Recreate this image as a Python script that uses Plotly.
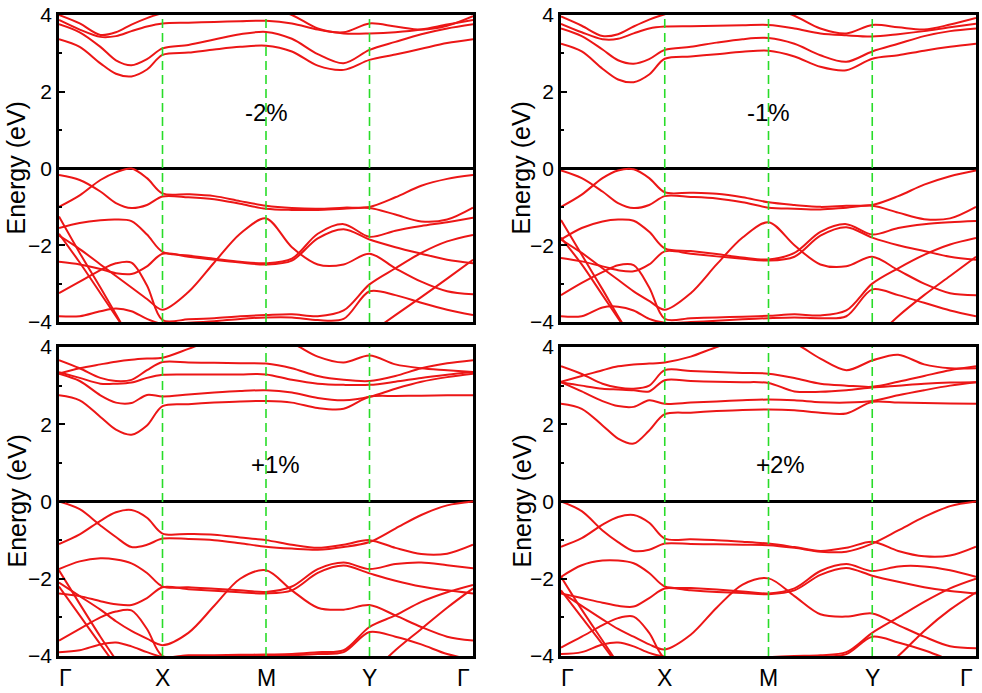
import plotly.graph_objects as go
from plotly.subplots import make_subplots

# k-path sample positions (Γ=0, X=1, M=2, Y=3, Γ=4)
k = [0, 0.2, 0.4, 0.55, 0.7, 0.85, 1, 1.25, 1.5, 1.75, 2,
     2.25, 2.5, 2.75, 3, 3.25, 3.5, 3.75, 4]
k_ticks = [0.065, 1, 2, 3, 3.91]
k_labels = ["Γ", "X", "M", "Y", "Γ"]
strain_labels = ["-2%", "-1%", "+1%", "+2%"]

N = None

# ---- -2% ----
cb_m2 = [
    [3.37, 3.17, 2.74, 2.47, 2.40, 2.58, 2.96, 3.02, 3.10, 3.17, 3.20, 3.05, 2.68, 2.57, 2.83, 2.97, 3.12, 3.27, 3.37],
    [3.76, 3.55, 3.17, 2.82, 2.69, 2.85, 3.13, 3.22, 3.36, 3.50, 3.56, 3.38, 2.98, 2.74, 3.09, 3.30, 3.50, 3.65, 3.76],
    [3.87, 3.62, 3.43, 3.45, 3.58, 3.70, 3.78, 3.80, 3.82, 3.84, 3.85, 3.78, 3.62, 3.52, 3.52, 3.55, 3.62, 3.75, 3.87],
    [4.00, 3.78, 3.48, 3.55, 3.75, 3.92, 4.05, 4.20, 4.30, 4.30, 4.20, 4.00, 3.65, 3.55, 3.78, 3.70, 3.62, 3.72, 3.97],
]
vb_m2 = [
    [-1.00, -0.70, -0.30, -0.10, 0.00, -0.25, -0.65, -0.67, -0.72, -0.85, -0.97, -1.03, -1.05, -1.02, -1.00, -0.75, -0.45, -0.27, -0.17],
    [-0.17, -0.30, -0.60, -0.90, -1.03, -0.95, -0.73, -0.75, -0.80, -0.92, -1.05, -1.08, -1.08, -1.05, -1.03, -1.20, -1.38, -1.33, -1.02],
    [-1.55, -1.42, -1.35, -1.33, -1.37, -1.72, -2.17, -2.27, -2.35, -2.43, -2.47, -2.35, -1.70, -1.45, -1.78, -1.62, -1.50, -1.40, -1.28],
    [-2.43, -2.50, -2.62, -2.73, -2.75, -2.55, -2.22, -2.30, -2.38, -2.45, -2.50, -2.40, -1.82, -1.58, -1.85, -2.05, -2.22, -2.38, -2.47],
    [-1.75, -2.10, -2.50, -2.80, -3.10, -3.40, -3.68, -3.22, -2.45, -1.70, -1.30, -2.05, -2.50, -2.50, -2.22, -2.60, -2.95, -3.20, -3.28],
    [-3.25, -2.95, -2.65, -2.47, -2.45, -3.05, -3.95, -3.93, -3.90, -3.85, -3.82, -3.80, -3.85, -3.70, -3.02, -2.60, -2.20, -1.90, -1.73],
    [-3.85, -3.85, -3.72, -3.65, -3.72, -3.92, -4.05, -4.02, -3.98, -3.92, -3.88, -3.88, -3.95, -3.92, -3.20, -3.30, -3.50, -3.68, -3.82],
]
steep_m2 = [
    [-1.25, -2.20, -3.10, -3.80, -4.50, N, N, N, N, N, N, N, N, N, N, N, N, N, N],
    [-1.70, -2.45, -3.25, -3.85, -4.45, N, N, N, N, N, N, N, N, N, N, N, N, N, N],
    [N, N, N, N, N, N, N, N, N, N, N, N, N, N, -4.30, -3.82, -3.35, -2.87, -2.38],
]

# ---- -1% ----
cb_m1 = [
    [3.25, 3.05, 2.60, 2.32, 2.25, 2.45, 2.86, 2.92, 2.98, 3.04, 3.07, 2.92, 2.65, 2.56, 2.86, 2.95, 3.07, 3.17, 3.25],
    [3.65, 3.45, 3.10, 2.82, 2.73, 2.85, 3.09, 3.17, 3.28, 3.37, 3.40, 3.25, 2.95, 2.78, 3.05, 3.25, 3.45, 3.58, 3.65],
    [3.77, 3.55, 3.37, 3.38, 3.52, 3.65, 3.70, 3.71, 3.72, 3.73, 3.74, 3.65, 3.52, 3.47, 3.44, 3.50, 3.58, 3.68, 3.77],
    [3.96, 3.72, 3.45, 3.50, 3.70, 3.88, 4.02, 4.20, 4.30, 4.30, 4.20, 3.98, 3.65, 3.52, 3.74, 3.68, 3.62, 3.75, 3.92],
]
vb_m1 = [
    [-1.00, -0.68, -0.25, -0.05, -0.02, -0.25, -0.62, -0.63, -0.66, -0.75, -0.88, -0.95, -1.00, -0.97, -0.95, -0.72, -0.42, -0.20, -0.05],
    [-0.05, -0.25, -0.60, -0.90, -1.03, -0.95, -0.72, -0.74, -0.78, -0.88, -1.02, -1.05, -1.07, -1.02, -0.97, -1.15, -1.32, -1.30, -1.00],
    [-1.85, -1.55, -1.38, -1.33, -1.36, -1.65, -2.08, -2.15, -2.23, -2.32, -2.37, -2.20, -1.65, -1.45, -1.72, -1.55, -1.45, -1.40, -1.37],
    [-2.33, -2.42, -2.55, -2.65, -2.68, -2.50, -2.16, -2.22, -2.29, -2.35, -2.40, -2.30, -1.75, -1.53, -1.80, -2.00, -2.15, -2.30, -2.38],
    [-1.85, -2.20, -2.60, -2.90, -3.20, -3.45, -3.68, -3.25, -2.50, -1.80, -1.40, -2.00, -2.50, -2.55, -2.30, -2.65, -3.00, -3.25, -3.30],
    [-3.30, -2.98, -2.70, -2.52, -2.52, -3.10, -3.92, -3.90, -3.88, -3.86, -3.84, -3.80, -3.83, -3.70, -3.00, -2.60, -2.25, -1.98, -1.81],
    [-3.85, -3.85, -3.62, -3.60, -3.70, -3.92, -4.02, -4.00, -3.97, -3.93, -3.90, -3.88, -3.90, -3.85, -3.15, -3.30, -3.50, -3.70, -3.85],
]
steep_m1 = [
    [-1.34, -2.25, -3.15, -3.85, -4.50, N, N, N, N, N, N, N, N, N, N, N, N, N, N],
    [-1.80, -2.50, -3.30, -3.90, -4.50, N, N, N, N, N, N, N, N, N, N, N, N, N, N],
    [N, N, N, N, N, N, N, N, N, N, N, N, N, N, -4.50, -3.85, -3.30, -2.80, -2.30],
]

# ---- +1% ----
cb_p1 = [
    [2.75, 2.62, 2.19, 1.86, 1.73, 1.97, 2.47, 2.52, 2.56, 2.59, 2.60, 2.56, 2.42, 2.40, 2.71, 2.73, 2.74, 2.75, 2.75],
    [3.31, 3.12, 2.75, 2.56, 2.55, 2.76, 2.72, 2.77, 2.82, 2.86, 2.88, 2.82, 2.68, 2.62, 2.71, 2.92, 3.10, 3.22, 3.31],
    [3.35, 3.20, 3.05, 3.05, 3.08, 3.20, 3.28, 3.29, 3.29, 3.29, 3.29, 3.15, 3.05, 3.02, 3.02, 3.10, 3.20, 3.28, 3.35],
    [3.66, 3.45, 3.20, 3.12, 3.15, 3.40, 3.61, 3.60, 3.59, 3.58, 3.57, 3.45, 3.25, 3.15, 3.12, 3.25, 3.45, 3.58, 3.66],
    [3.31, 3.45, 3.55, 3.62, 3.67, 3.70, 3.72, 3.95, 4.20, 4.30, 4.30, 4.10, 3.75, 3.60, 3.78, 3.55, 3.45, 3.40, 3.35],
]
vb_p1 = [
    [0.00, -0.20, -0.62, -0.92, -1.18, -1.12, -0.96, -0.97, -1.00, -1.08, -1.17, -1.22, -1.25, -1.18, -1.05, -0.70, -0.35, -0.10, 0.00],
    [-1.10, -0.85, -0.50, -0.28, -0.22, -0.42, -0.83, -0.84, -0.86, -0.93, -1.00, -1.12, -1.20, -1.12, -1.00, -1.20, -1.36, -1.35, -1.12],
    [-1.75, -1.55, -1.47, -1.50, -1.60, -1.85, -2.20, -2.22, -2.26, -2.30, -2.34, -2.20, -1.75, -1.58, -1.75, -1.62, -1.58, -1.65, -1.73],
    [-2.38, -2.45, -2.58, -2.66, -2.68, -2.50, -2.22, -2.27, -2.31, -2.35, -2.38, -2.30, -1.85, -1.66, -1.86, -2.05, -2.20, -2.30, -2.38],
    [-2.10, -2.45, -2.80, -3.10, -3.35, -3.55, -3.72, -3.40, -2.70, -2.00, -1.78, -2.30, -2.75, -2.80, -2.68, -2.95, -3.25, -3.50, -3.60],
    [-3.60, -3.30, -3.00, -2.85, -2.82, -3.30, -4.00, -3.98, -3.98, -3.97, -3.96, -3.95, -3.90, -3.85, -3.25, -2.95, -2.60, -2.35, -2.16],
    [-3.90, -3.85, -3.70, -3.65, -3.75, -3.90, -4.02, -4.00, -4.00, -4.00, -4.00, -3.98, -3.95, -3.90, -3.38, -3.50, -3.70, -3.95, -4.10],
]
steep_p1 = [
    [-1.78, -2.65, -3.50, -4.10, N, N, N, N, N, N, N, N, N, N, N, N, N, N, N],
    [-2.20, -2.95, -3.70, -4.25, N, N, N, N, N, N, N, N, N, N, N, N, N, N, N],
    [N, N, N, N, N, N, N, N, N, N, N, N, N, N, -4.50, -3.85, -3.30, -2.75, -2.25],
]

# ---- +2% ----
cb_p2 = [
    [2.53, 2.40, 1.97, 1.63, 1.50, 1.84, 2.26, 2.30, 2.34, 2.37, 2.38, 2.36, 2.30, 2.28, 2.58, 2.56, 2.55, 2.54, 2.53],
    [3.09, 2.85, 2.60, 2.47, 2.45, 2.62, 2.53, 2.56, 2.59, 2.62, 2.64, 2.62, 2.57, 2.56, 2.60, 2.75, 2.88, 3.00, 3.09],
    [3.09, 3.00, 2.92, 2.90, 2.88, 2.85, 3.14, 3.12, 3.10, 3.09, 3.07, 2.85, 2.84, 2.88, 2.95, 3.00, 3.05, 3.08, 3.09],
    [3.50, 3.30, 3.05, 2.95, 2.92, 3.00, 3.40, 3.38, 3.35, 3.33, 3.31, 3.20, 3.05, 3.00, 2.97, 3.10, 3.25, 3.40, 3.50],
    [3.10, 3.25, 3.40, 3.50, 3.55, 3.57, 3.60, 3.75, 4.00, 4.20, 4.30, 4.10, 3.70, 3.40, 3.65, 3.80, 3.55, 3.45, 3.45],
]
vb_p2 = [
    [0.00, -0.25, -0.75, -1.05, -1.28, -1.25, -1.09, -1.10, -1.11, -1.12, -1.13, -1.20, -1.30, -1.30, -1.09, -0.75, -0.40, -0.12, 0.00],
    [-1.17, -0.95, -0.60, -0.40, -0.35, -0.55, -0.96, -0.98, -1.00, -1.04, -1.09, -1.18, -1.28, -1.20, -1.04, -1.28, -1.42, -1.40, -1.17],
    [-1.95, -1.65, -1.53, -1.53, -1.60, -1.85, -2.20, -2.24, -2.28, -2.33, -2.38, -2.25, -1.80, -1.62, -1.80, -1.68, -1.68, -1.78, -1.95],
    [-2.38, -2.50, -2.62, -2.70, -2.72, -2.50, -2.25, -2.30, -2.34, -2.37, -2.40, -2.30, -1.90, -1.72, -1.92, -2.08, -2.22, -2.32, -2.38],
    [-2.35, -2.70, -3.05, -3.30, -3.50, -3.70, -3.83, -3.45, -2.75, -2.15, -1.99, -2.45, -2.92, -2.98, -2.90, -3.20, -3.50, -3.75, -3.80],
    [-3.78, -3.50, -3.20, -3.02, -2.98, -3.40, -4.05, -4.05, -4.05, -4.05, -4.03, -4.00, -3.98, -3.90, -3.40, -3.00, -2.60, -2.25, -2.00],
    [-3.95, -3.90, -3.70, -3.65, -3.75, -3.92, -4.02, -4.05, -4.05, -4.05, -4.05, -4.05, -4.02, -3.95, -3.50, -3.65, -3.85, -4.10, -4.30],
]
steep_p2 = [
    [-1.95, -2.80, -3.60, -4.20, N, N, N, N, N, N, N, N, N, N, N, N, N, N, N],
    [-2.30, -3.00, -3.70, -4.25, N, N, N, N, N, N, N, N, N, N, N, N, N, N, N],
    [N, N, N, N, N, N, N, N, N, N, N, N, N, N, -4.50, -4.00, -3.35, -2.80, -2.35],
]

panels = [
    (1, 1, cb_m2 + vb_m2 + steep_m2, strain_labels[0], 2.0, 1.45),
    (1, 2, cb_m1 + vb_m1 + steep_m1, strain_labels[1], 2.0, 1.45),
    (2, 1, cb_p1 + vb_p1 + steep_p1, strain_labels[2], 2.09, 0.95),
    (2, 2, cb_p2 + vb_p2 + steep_p2, strain_labels[3], 2.12, 0.95),
]

red = "rgb(236,22,22)"
green = "rgb(40,220,40)"
font = "Liberation Sans, Arial, sans-serif"

W, H = 982, 693
xd = [[59 / W, 473 / W], [561 / W, 976 / W]]
yd = [[1 - 322 / H, 1 - 15 / H], [1 - 656 / H, 1 - 347 / H]]
title_x = [16 / W, 521 / W]

fig = make_subplots(rows=2, cols=2)

for row, col, bands, label, lx, ly in panels:
    for band in bands:
        fig.add_trace(go.Scatter(x=k, y=band, mode="lines",
                                 line=dict(color=red, width=2, shape="spline", smoothing=0.9),
                                 hoverinfo="skip", showlegend=False),
                      row=row, col=col)
    for kv in [1, 2, 3]:
        fig.add_vline(x=kv, row=row, col=col,
                      line=dict(color=green, width=1.6, dash="9px,5px"))
    fig.add_annotation(x=lx, y=ly, text=label, showarrow=False,
                       font=dict(size=24, color="black", family=font),
                       row=row, col=col)
    # y-axis title
    fig.add_annotation(x=title_x[col - 1], y=sum(yd[row - 1]) / 2,
                       xref="paper", yref="paper", text="Energy (eV)",
                       xanchor="center", yanchor="middle",
                       textangle=-90, showarrow=False,
                       font=dict(size=25, color="black", family=font))
    # k-point labels under the lower panels
    if row == 2:
        for kt, kl in zip(k_ticks, k_labels):
            fig.add_annotation(x=kt, y=-0.072, yref="y domain", text=kl,
                               showarrow=False, xanchor="center", yanchor="middle",
                               borderpad=0,
                               font=dict(size=23, color="black", family=font),
                               row=row, col=col)

fig.update_xaxes(range=[0, 4], showticklabels=False, ticks="",
                 showline=True, mirror=True, linecolor="black", linewidth=2.5,
                 showgrid=False, zeroline=False, automargin=False)
fig.update_yaxes(range=[-4, 4], tickvals=[-4, -2, 0, 2, 4], ticks="inside",
                 ticklen=6, tickwidth=2, tickcolor="black",
                 minor=dict(tickvals=[-3, -1, 1, 3], ticks="inside", ticklen=3,
                            tickwidth=2, tickcolor="black"),
                 showline=True, mirror=True, linecolor="black", linewidth=2.5,
                 showgrid=False, zeroline=True, zerolinecolor="black", zerolinewidth=2.5,
                 tickfont=dict(size=21, color="black", family=font), automargin=False)

for r in (1, 2):
    for c in (1, 2):
        fig.update_xaxes(domain=xd[c - 1], row=r, col=c)
        fig.update_yaxes(domain=yd[r - 1], row=r, col=c)

fig.update_layout(width=W, height=H, margin=dict(l=0, r=0, t=0, b=0),
                  paper_bgcolor="white", plot_bgcolor="white")

# the page's default body margin would push the fixed-size figure off the window
fig.write_html("out.html", config={"displayModeBar": False},
               post_script="document.body.style.margin='0';document.body.style.overflow='hidden';")
